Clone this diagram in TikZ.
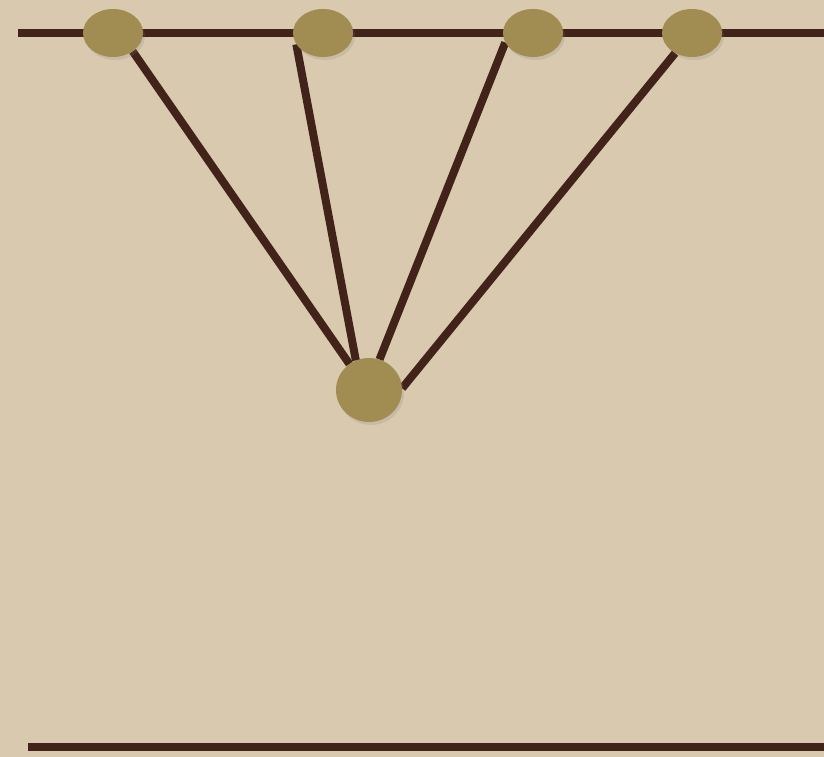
\documentclass[tikz,border=0pt]{standalone}
\usepackage{tikz}
\usetikzlibrary{shadows,shapes.geometric}
\definecolor{paperbeige}{RGB}{217,201,175}
\definecolor{wirebrown}{RGB}{66,35,25}
\definecolor{knotolive}{RGB}{161,141,81}
\pgfdeclarelayer{paper}
\pgfdeclarelayer{wires}
\pgfsetlayers{paper,wires,main}
\tikzset{
  wire/.style={draw=wirebrown,line width=8.5pt},
  spoke/.style={draw=wirebrown,line width=8pt},
  knot/.style={ellipse,fill=knotolive,inner sep=0pt,minimum width=60pt,
    minimum height=48pt,drop shadow={opacity=0.18,shadow xshift=2pt,
    shadow yshift=-3pt}},
  hub/.style={knot,minimum width=66pt,minimum height=64pt}
}
\begin{document}
\begin{tikzpicture}[x=1pt,y=-1pt]
  \begin{pgfonlayer}{paper}
    \fill[paperbeige] (0,0) rectangle (824,757);
  \end{pgfonlayer}
  \useasboundingbox (0,0) rectangle (824,757);
  % rails
  \coordinate (topL) at (18,33);
  \coordinate (topR) at (824,33);
  \coordinate (botL) at (28,747);
  \coordinate (botR) at (824,747);
  % knots on the top rail and the hub below
  \node[knot] (k1) at (113,33) {};
  \node[knot] (k2) at (323,33) {};
  \node[knot] (k3) at (533,33) {};
  \node[knot] (k4) at (692,33) {};
  \node[hub] (h) at (369,390) {};
  \begin{pgfonlayer}{wires}
    \draw[wire] (topL) -- (topR);
    \draw[wire] (botL) -- (botR);
    % spokes
    \draw[spoke] (k1.-43) -- (h.127);
    \draw[spoke] (k2.203) -- (h.114);
    \draw[spoke] (k3.199) -- (h.71);
    \draw[spoke] (k4.230) -- (h.3);
  \end{pgfonlayer}
\end{tikzpicture}
\end{document}
